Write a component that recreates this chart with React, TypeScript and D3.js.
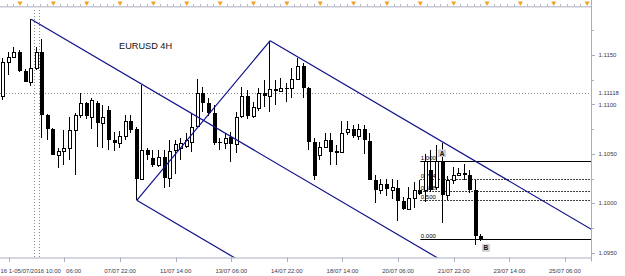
import React from 'react';
import * as d3 from 'd3';

const W = 625;
const H = 276;

// OHLC per 4H bar (EURUSD)
const opens = [
  1.11085, 1.11434, 1.11477, 1.11531, 1.11338, 1.11230, 1.11365, 1.11534, 1.10892, 1.10750,
  1.10493, 1.10530, 1.10560, 1.10740, 1.10892, 1.11011, 1.10875, 1.11011, 1.10814, 1.10943,
  1.10645, 1.10611, 1.10679, 1.10834, 1.10747, 1.10243, 1.10544, 1.10463, 1.10385, 1.10469,
  1.10260, 1.10537, 1.10564, 1.10578, 1.10618, 1.10780, 1.11118, 1.11011, 1.10909, 1.10618,
  1.10611, 1.10666, 1.10598, 1.10882, 1.11085, 1.10882, 1.10960, 1.11118, 1.11085, 1.11153,
  1.11135, 1.11163, 1.11163, 1.11254, 1.11389, 1.11163, 1.10621, 1.10486, 1.10570, 1.10645,
  1.10520, 1.10520, 1.10722, 1.10747, 1.10679, 1.10747, 1.10631, 1.10240, 1.10139, 1.10199,
  1.10139, 1.10159, 1.10023, 1.09946, 1.10057, 1.10132, 1.10132, 1.10341, 1.10165, 1.10428,
  1.10081, 1.10240, 1.10284, 1.10307, 1.10291, 1.10139, 1.09665,
];
const highs = [
  1.11470, 1.11531, 1.11584, 1.11551, 1.11358, 1.11862, 1.11584, 1.11663, 1.10902, 1.10760,
  1.10560, 1.10740, 1.10869, 1.10915, 1.11118, 1.11027, 1.11062, 1.11034, 1.10993, 1.10983,
  1.10722, 1.10733, 1.10892, 1.10892, 1.10773, 1.11196, 1.10564, 1.10537, 1.10544, 1.10544,
  1.10638, 1.10638, 1.10656, 1.10706, 1.10909, 1.11254, 1.11179, 1.11065, 1.10993, 1.10659,
  1.10709, 1.10722, 1.10925, 1.11179, 1.11145, 1.11027, 1.11166, 1.11247, 1.11645, 1.11247,
  1.11270, 1.11219, 1.11365, 1.11467, 1.11416, 1.11179, 1.10656, 1.10621, 1.10709, 1.10706,
  1.10588, 1.10834, 1.10834, 1.10790, 1.10801, 1.10790, 1.10706, 1.10284, 1.10250, 1.10243,
  1.10250, 1.10240, 1.10063, 1.10165, 1.10216, 1.10233, 1.10503, 1.10537, 1.10588, 1.10605,
  1.10273, 1.10362, 1.10355, 1.10402, 1.10334, 1.10240, 1.09685,
];
const lows = [
  1.11044, 1.11297, 1.11470, 1.11328, 1.11226, 1.11186, 1.11348, 1.10659, 1.10638, 1.10486,
  1.10358, 1.10385, 1.10436, 1.10291, 1.10859, 1.10848, 1.10747, 1.10570, 1.10564, 1.10537,
  1.10530, 1.10564, 1.10645, 1.10709, 1.10030, 1.10233, 1.10436, 1.10362, 1.10368, 1.10159,
  1.10165, 1.10301, 1.10436, 1.10557, 1.10520, 1.10770, 1.10925, 1.10882, 1.10588, 1.10537,
  1.10554, 1.10418, 1.10510, 1.10862, 1.10851, 1.10859, 1.10933, 1.10976, 1.10925, 1.10993,
  1.11125, 1.11027, 1.11062, 1.11247, 1.11062, 1.10537, 1.10240, 1.10436, 1.10557, 1.10385,
  1.10385, 1.10507, 1.10689, 1.10659, 1.10638, 1.10503, 1.10233, 1.10003, 1.10098, 1.10071,
  1.10040, 1.09820, 1.09929, 1.09929, 1.09956, 1.10081, 1.10013, 1.10111, 1.10132, 1.09800,
  1.10030, 1.10192, 1.10273, 1.10233, 1.10104, 1.09574, 1.09617,
];
const closes = [
  1.11429, 1.11477, 1.11531, 1.11338, 1.11230, 1.11365, 1.11534, 1.10892, 1.10750, 1.10493,
  1.10527, 1.10564, 1.10740, 1.10892, 1.11011, 1.10882, 1.11044, 1.10814, 1.10869, 1.10638,
  1.10611, 1.10679, 1.10834, 1.10740, 1.10243, 1.10544, 1.10486, 1.10385, 1.10469, 1.10260,
  1.10530, 1.10598, 1.10605, 1.10645, 1.10775, 1.11118, 1.11011, 1.10909, 1.10605, 1.10613,
  1.10656, 1.10598, 1.10875, 1.11085, 1.10882, 1.10970, 1.11118, 1.11085, 1.11153, 1.11135,
  1.11163, 1.11160, 1.11254, 1.11389, 1.11163, 1.10621, 1.10273, 1.10570, 1.10645, 1.10520,
  1.10527, 1.10712, 1.10747, 1.10679, 1.10747, 1.10638, 1.10240, 1.10139, 1.10199, 1.10149,
  1.10165, 1.10023, 1.09946, 1.10057, 1.10132, 1.10098, 1.10428, 1.10139, 1.10428, 1.10081,
  1.10240, 1.10284, 1.10307, 1.10291, 1.10139, 1.09665, 1.09638,
];

// time axis
const timeLabelBars = [21, 31, 41, 51, 61, 71, 81, 91, 101];
const timeLabels = [
  '07/07 22:00', '11/07 14:00', '13/07 06:00', '14/07 22:00',
  '18/07 14:00', '20/07 06:00', '21/07 22:00', '23/07 14:00', '25/07 06:00',
];
const partialLabelBar = 11;
const partialLabel = '06:00';
const markerLabel = '16 1-05/07/2016 10:00';
const markerBars = [5.5, 6.5];
const hiddenTickBars = [1, 11];

// price axis
const priceTicks = [1.095, 1.1, 1.105, 1.11, 1.115];
const priceMinorTicks = [1.0975, 1.1025, 1.1075, 1.1125, 1.1175];
const bidPrice = 1.11118;

// trend lines (bar index, price)
const trendBar1 = [5, 24, 24, 48];
const trendPrice1 = [1.11862, 1.1003, 1.1003, 1.11645];
const trendBar2 = [85, 64, 48, 108];
const trendPrice2 = [1.09219, 1.08708, 1.11645, 1.09663];

// fibonacci
const fibStartBar = 75;
const fibHigh = 1.10432;
const fibLow = 1.09637;
const fibLevels = [1, 0.764, 0.618, 0.5, 0];
const fibTexts = ['1.000', '0.764', '0.618', '0.500', '0.000'];

// point labels
const pointNames = ['A', 'B'];
const pointBars = [78.9, 86.8];
const pointPrices = [1.10507, 1.09548];

// ruler markers
const rulerBars = d3.range(3, 106, 6);

const title = 'EURUSD 4H';

export default function App() {
  const plotRight = 591;
  const plotBottom = 257.5;
  const x = d3.scaleLinear().domain([-0.594, 105.7]).range([0, plotRight]);
  const y = d3.scaleLinear().domain([1.095, 1.115]).range([252.7, 55]);
  const font = 'Liberation Sans, Arial, sans-serif';
  const axisCol = '#a9adc1';
  const textCol = '#3a3a4e';

  const rulerMinor: number[] = [];
  rulerBars.forEach((b) => {
    for (let i = -2; i <= 2; i++) {
      if (i !== 0) rulerMinor.push(x(b) + i * 6.67);
    }
  });

  const line = d3.line<[number, number]>().x((d) => d[0]).y((d) => d[1]);
  const fy = (lvl: number) => y(fibLow + (fibHigh - fibLow) * lvl);

  return (
    <svg
      width={W}
      height={H}
      style={{ position: 'absolute', left: 0, top: 0, background: '#fff' }}
      fontFamily={font}
    >
      <defs>
        <clipPath id="plot">
          <rect x={0} y={8} width={plotRight} height={plotBottom - 8} />
        </clipPath>
      </defs>
      <rect x={0} y={0} width={W} height={H} fill="#fff" />

      {/* top ruler */}
      <line x1={0} x2={plotRight} y1={6.5} y2={6.5} stroke="#c4c6d2" />
      <line x1={0} x2={plotRight} y1={7.5} y2={7.5} stroke="#e4e5ec" />
      {rulerMinor.filter((v) => v > 0 && v < plotRight).map((v, i) => (
        <line key={'rm' + i} x1={Math.round(v) + 0.5} x2={Math.round(v) + 0.5} y1={4} y2={6.5} stroke="#b8bac8" />
      ))}
      {rulerBars.map((b, i) => {
        const cx = x(b);
        return (
          <path key={'rt' + i} d={`M${cx - 2.5},1.5 L${cx + 2.5},1.5 L${cx},6 Z`} fill="#f4a02a" />
        );
      })}

      {/* dotted reference lines */}
      <line x1={0} x2={plotRight} y1={Math.round(y(bidPrice)) + 0.5} y2={Math.round(y(bidPrice)) + 0.5}
        stroke="#8a8a8a" strokeDasharray="1,2" />
      {markerBars.map((b, i) => (
        <line key={'mk' + i} x1={Math.round(x(b)) + 0.5} x2={Math.round(x(b)) + 0.5} y1={10} y2={plotBottom}
          stroke="#8a8a8a" strokeDasharray="1,2" />
      ))}

      <text x={119} y={49.3} fontSize={9.2} fill="#111">{title}</text>

      {/* fibonacci */}
      {fibLevels.map((lvl, i) => {
        const yy = Math.round(fy(lvl)) + 0.5;
        const solid = lvl === 0 || lvl === 1;
        return (
          <g key={'fib' + i}>
            <line x1={x(fibStartBar)} x2={plotRight} y1={yy} y2={yy} stroke="#000"
              strokeDasharray={solid ? undefined : '1.5,1.5'} />
            <text x={x(fibStartBar) + 0.5} y={yy - 1.8} fontSize={6} fill="#000">{fibTexts[i]}</text>
          </g>
        );
      })}

      {/* candles */}
      <g clipPath="url(#plot)">
        {opens.map((o, i) => {
          const c = closes[i];
          const xi = Math.round(x(i));
          const yh = Math.round(y(highs[i]));
          const yl = Math.round(y(lows[i]));
          const yTop = Math.round(y(Math.max(o, c)));
          const yBot = Math.round(y(Math.min(o, c)));
          const bh = Math.max(1, yBot - yTop);
          const bull = c >= o;
          return (
            <g key={'c' + i} shapeRendering="crispEdges">
              <rect x={xi - 1} y={yh} width={1} height={Math.max(1, yl - yh)} fill="#000" />
              <rect x={xi - 2} y={yTop} width={4} height={bh + (bull ? 1 : 0)} fill="#000" />
              {bull && bh >= 2 && (
                <rect x={xi - 1} y={yTop + 1} width={2} height={bh - 1} fill="#fff" />
              )}
            </g>
          );
        })}
      </g>

      {/* trend lines */}
      <g clipPath="url(#plot)">
        {trendBar1.map((b, i) => (
          <path key={'tl' + i}
            d={line([[x(b), y(trendPrice1[i])], [x(trendBar2[i]), y(trendPrice2[i])]]) || ''}
            stroke="#10108a" strokeWidth={1.2} fill="none" />
        ))}
      </g>

      {/* point labels */}
      {pointNames.map((n, i) => {
        const cx = x(pointBars[i]);
        const cy = y(pointPrices[i]);
        return (
          <g key={'pt' + i}>
            <rect x={cx - 4} y={cy - 3.8} width={8} height={7.6} fill="#cfcfd4" />
            <text x={cx} y={cy + 2.4} fontSize={6.5} fontWeight="bold" textAnchor="middle" fill="#111">{n}</text>
          </g>
        );
      })}

      {/* axes */}
      <line x1={0} x2={plotRight + 0.5} y1={plotBottom + 0.5} y2={plotBottom + 0.5} stroke={axisCol} />
      <line x1={plotRight + 0.5} x2={plotRight + 0.5} y1={0} y2={plotBottom + 4} stroke={axisCol} />

      {priceMinorTicks.map((p, i) => (
        <line key={'pmt' + i} x1={plotRight} x2={plotRight + 3} y1={Math.round(y(p)) + 0.5} y2={Math.round(y(p)) + 0.5} stroke={axisCol} />
      ))}
      {priceTicks.map((p, i) => (
        <g key={'pt2' + i}>
          <line x1={plotRight} x2={plotRight + 4} y1={Math.round(y(p)) + 0.5} y2={Math.round(y(p)) + 0.5} stroke={axisCol} />
          <text x={598.5} y={y(p) + 2.2} fontSize={6} fill={textCol}>{d3.format('.4f')(p)}</text>
        </g>
      ))}
      <text x={598.5} y={y(bidPrice) + 2.2} fontSize={6} fill={textCol}>{d3.format('.5f')(bidPrice)}</text>

      {hiddenTickBars.map((b, i) => (
        <line key={'ht' + i} x1={Math.round(x(b)) + 0.5} x2={Math.round(x(b)) + 0.5} y1={plotBottom} y2={plotBottom + 4.5} stroke={axisCol} />
      ))}
      {timeLabelBars.map((b, i) => (
        <g key={'tt' + i}>
          <line x1={Math.round(x(b)) + 0.5} x2={Math.round(x(b)) + 0.5} y1={plotBottom} y2={plotBottom + 4.5} stroke={axisCol} />
          <text x={x(b)} y={272.8} fontSize={6} textAnchor="middle" fill={textCol}>{timeLabels[i]}</text>
        </g>
      ))}
      <text x={x(partialLabelBar) + 1.6} y={272.8} fontSize={6} fill={textCol}>{partialLabel}</text>
      <text x={0.5} y={272.8} fontSize={6} fill={textCol}>{markerLabel}</text>
    </svg>
  );
}
